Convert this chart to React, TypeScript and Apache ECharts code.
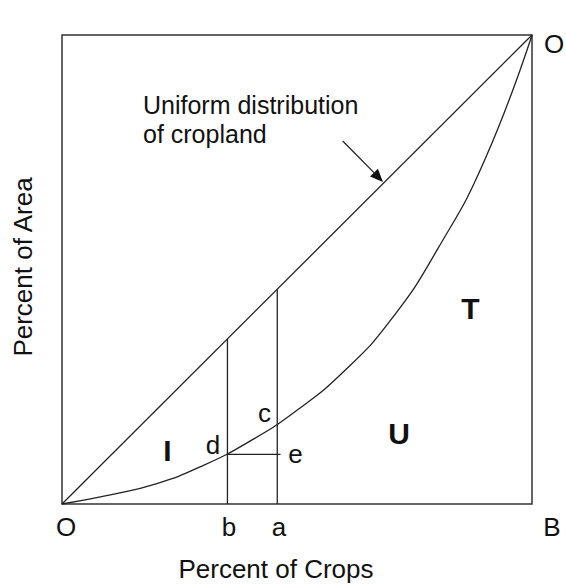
import React, { useEffect, useRef } from 'react';
import * as echarts from 'echarts';

// Data (percent of crops on x, percent of area on y)
const diagonalX = [0, 100];
const diagonalY = [0, 100];
const curveX = [0, 10, 20, 30, 40, 50, 60, 70, 80, 90, 100];
const curveY = [0, 1.9, 4.3, 8.2, 13.4, 20.0, 28.3, 39.3, 54.5, 73.5, 100];
const bX = 35.2;
const aX = 45.8;
const dY = 10.6;
const eX = 46.5;

const FONT = '"Liberation Sans", Arial, Helvetica, sans-serif';
const INK = '#111';
const LINE = '#222';

function txt(text: string, x: number, y: number, size: number, opts: any = {}) {
  return {
    type: 'text',
    x,
    y,
    rotation: opts.rotation || 0,
    style: {
      text,
      fontSize: size,
      fontFamily: FONT,
      fontWeight: opts.bold ? 'bold' : 'normal',
      fill: INK,
      textAlign: opts.align || 'center',
      textVerticalAlign: 'middle',
    },
  };
}

export default function App() {
  const ref = useRef<HTMLDivElement>(null);
  useEffect(() => {
    if (!ref.current) return;
    const chart = echarts.init(ref.current, null, { renderer: 'svg' });
    const line = (data: number[][], w = 1.3) => ({
      type: 'line',
      data,
      symbol: 'none',
      lineStyle: { color: LINE, width: w },
      silent: true,
    });
    const tip = [383, 182];
    const dir = [0.695, 0.719];
    const len = 13;
    const half = 5.5;
    const base = [tip[0] - dir[0] * len, tip[1] - dir[1] * len];
    const perp = [-dir[1], dir[0]];
    chart.setOption({
      animation: false,
      backgroundColor: '#fff',
      grid: {
        left: 62,
        top: 35,
        right: 34,
        bottom: 80,
        show: true,
        borderColor: '#333',
        borderWidth: 1.5,
      },
      xAxis: {
        type: 'value',
        min: 0,
        max: 100,
        axisLine: { show: false },
        axisTick: { show: false },
        axisLabel: { show: false },
        splitLine: { show: false },
      },
      yAxis: {
        type: 'value',
        min: 0,
        max: 100,
        axisLine: { show: false },
        axisTick: { show: false },
        axisLabel: { show: false },
        splitLine: { show: false },
      },
      series: [
        line(diagonalX.map((x, i) => [x, diagonalY[i]])),
        {
          ...line(curveX.map((x, i) => [x, curveY[i]])),
          smooth: 0.5,
        },
        line([[bX, 0], [bX, bX]]),
        line([[aX, 0], [aX, aX]]),
        line([[bX, dY], [eX, dY]]),
      ],
      graphic: [
        txt('O', 554, 44, 26),
        txt('O', 66, 527, 26),
        txt('b', 229, 527, 26),
        txt('a', 279, 527, 26),
        txt('B', 552, 527, 26),
        txt('Percent of Crops', 276, 569, 26),
        txt('Percent of Area', 23, 267, 26, { rotation: Math.PI / 2 }),
        txt('Uniform distribution', 143, 105, 25, { align: 'left' }),
        txt('of cropland', 143, 134, 25, { align: 'left' }),
        txt('I', 167.5, 450, 30, { bold: true }),
        txt('U', 399, 433, 30, { bold: true }),
        txt('T', 470.5, 308, 30, { bold: true }),
        txt('c', 264.5, 413, 26),
        txt('d', 213, 445, 26),
        txt('e', 295.5, 454, 26),
        {
          type: 'line',
          shape: { x1: 342.7, y1: 141, x2: base[0], y2: base[1] },
          style: { stroke: LINE, lineWidth: 1.3 },
        },
        {
          type: 'polygon',
          shape: {
            points: [
              tip,
              [base[0] + perp[0] * half, base[1] + perp[1] * half],
              [base[0] - perp[0] * half, base[1] - perp[1] * half],
            ],
          },
          style: { fill: '#111' },
        },
      ],
    });
    return () => chart.dispose();
  }, []);
  return (
    <div
      ref={ref}
      style={{ position: 'fixed', left: 0, top: 0, width: 566, height: 584 }}
    />
  );
}
